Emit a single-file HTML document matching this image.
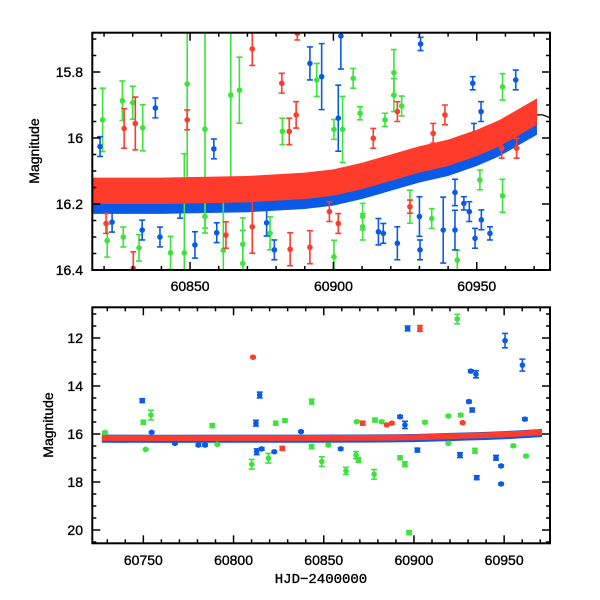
<!DOCTYPE html>
<html><head><meta charset="utf-8"><style>
html,body{margin:0;padding:0;background:#fff}
svg{display:block}
text{font-family:"Liberation Sans",sans-serif;fill:#000;stroke:#000;stroke-width:0.35}
</style></head><body>
<svg id="chart" width="600" height="600" viewBox="0 0 600 600" xmlns="http://www.w3.org/2000/svg">
<defs>
<clipPath id="clipTop"><rect x="92.3" y="32.7" width="457.7" height="237.3"/></clipPath>
<clipPath id="clipBot"><rect x="92.3" y="307.3" width="457.7" height="236"/></clipPath>
</defs>
<g id="topPanel"></g>
<g id="botPanel"></g>
<text transform="translate(39,151) rotate(-90)" text-anchor="middle" font-size="14">Magnitude</text>
<text transform="translate(53,425) rotate(-90)" text-anchor="middle" font-size="14">Magnitude</text>
<text x="321" y="583" text-anchor="middle" font-size="14" style="font-family:'Liberation Mono',monospace">HJD−2400000</text>
</svg>
<script>
// ---- data ----
const bandX   = [60727,60760,60800,60840,60870,60890,60900,60910,60920,60930,60940,60950,60958,60964,60968,60971];
const bandMid = [16.165,16.17,16.165,16.165,16.16,16.15,16.14,16.12,16.095,16.07,16.05,16.02,15.99,15.96,15.94,15.925];
const modelX  = [60816,60870,60900,60920,60940,60955,60965,60970,60973,60976];
const modelY  = [16.165,16.16,16.14,16.095,16.05,16.005,15.955,15.93,15.93,15.94];
const topYTicks = [15.8,16,16.2,16.4];
const topYLabels = ["15.8","16","16.2","16.4"];
const botYTicks = [12,14,16,18,20];
const xTicks = [60750,60800,60850,60900,60950];

// top panel points: [hjd, mag, err]
const topGreen = [[60819.5,15.945,0.096],[60826.4,15.887,0.06],[60830,15.893,0.05],[60833.5,15.969,0.07],[60849,15.836,0.3],[60855.2,15.973,0.3],[60864.2,15.87,0.25],[60867.2,15.855,0.1],[60882.2,15.98,0.04],[60894.2,15.824,0.05],[60821.1,16.311,0.05],[60832.2,16.333,0.04],[60843.2,16.348,0.05],[60848,16.348,0.3],[60861.6,16.34,0.2],[60868.4,16.322,0.08],[60877.9,16.289,0.05],[60868.4,16.38,0.1],[60826.7,16.3,0.03],[60855.2,16.238,0.05],[60906.9,15.819,0.03],[60909.3,15.925,0.02],[60959,15.845,0.04],[60921.1,15.802,0.07],[60921.1,15.87,0.05],[60918,15.945,0.02],[60923.8,15.903,0.03],[60900.2,15.974,0.03],[60903.2,15.974,0.1],[60959,16.175,0.05],[60951.1,16.127,0.03],[60910.2,16.238,0.04],[60910.2,16.269,0.04],[60934.3,16.244,0.03],[60943.2,16.37,0.03],[60900.2,16.36,0.05],[60926.7,16.208,0.05]];
const topBlue = [[60837.9,15.909,0.03],[60818.6,16.026,0.03],[60858.3,16.033,0.03],[60891.8,15.774,0.05],[60822.8,16.255,0.03],[60833.3,16.279,0.03],[60839.5,16.3,0.03],[60851.7,16.324,0.04],[60859.3,16.287,0.03],[60876.7,16.257,0.04],[60879.4,16.339,0.03],[60846.5,16.213,0.03],[60902.6,15.691,0.1],[60895.9,15.814,0.1],[60901.7,15.94,0.1],[60930.4,15.715,0.02],[60948.6,15.834,0.02],[60963.6,15.824,0.03],[60949,15.986,0.03],[60951.5,15.92,0.03],[60945.5,16.198,0.02],[60947.4,16.223,0.03],[60951.6,16.248,0.03],[60949.4,16.304,0.03],[60942.4,16.279,0.06],[60938.3,16.279,0.1],[60922.3,16.319,0.05],[60917.4,16.289,0.03],[60915.7,16.284,0.04],[60930,16.238,0.06],[60930.2,16.339,0.03],[60954.6,16.289,0.02],[60966.2,15.986,0.02],[60942.4,16.165,0.04]];
const topRed = [[60827,15.971,0.06],[60830.9,15.956,0.08],[60849,15.945,0.03],[60882,15.834,0.03],[60871.7,15.73,0.05],[60887.4,15.683,0.02],[60887,15.93,0.04],[60884.6,15.98,0.04],[60820.7,16.259,0.03],[60830.2,16.395,0.05],[60871.7,16.269,0.08],[60862.5,16.294,0.04],[60884.9,16.337,0.05],[60891.8,16.331,0.05],[60922.3,15.92,0.03],[60938.9,15.93,0.03],[60913.9,16.001,0.03],[60934.8,15.986,0.03],[60898.6,16.223,0.03],[60901.7,16.259,0.03],[60926.7,16.208,0.02],[60963.9,16.031,0.03],[60958.7,16.031,0.03]];

// bottom panel points
const botGreen = [[60750,15.51,0.08],[60754.2,15.21,0.2],[60751.3,16.64,0.03],[60788.2,15.65,0.08],[60823.4,15.55,0.08],[60828.5,15.44,0.06],[60810.1,17.26,0.2],[60819.3,17.01,0.2],[60843.3,14.65,0.1],[60728.7,15.94,0.04],[60843.3,16.53,0.08],[60791,16.43,0.04],[60924,11.21,0.2],[60897.3,20.11,0.08],[60877.9,17.68,0.2],[60862.3,17.54,0.15],[60848.9,17.15,0.2],[60867.9,16.88,0.15],[60869.2,17.08,0.1],[60892.3,16.99,0.08],[60895,17.26,0.1],[60933.8,16.7,0.1],[60919.1,15.25,0.05],[60925.9,15.21,0.05],[60878.4,15.42,0.08],[60882.1,15.49,0.05],[60868.3,15.49,0.04],[60906.1,15.51,0.05],[60955.1,16.49,0.05],[60962.1,16.92,0.04],[60852.5,16.46,0.05],[60919.1,16.39,0.04]];
const botBlue = [[60749.4,14.61,0.08],[60814.5,14.375,0.12],[60812.4,15.55,0.12],[60812.8,16.74,0.12],[60815.6,16.62,0.05],[60822.6,16.74,0.03],[60780.5,16.46,0.05],[60784.2,16.46,0.05],[60767.5,16.39,0.03],[60754.6,15.93,0.03],[60837.4,15.9,0.03],[60799,16.25,0.04],[60896.5,11.6,0.1],[60950.5,12.11,0.3],[60960.1,13.13,0.25],[60931.5,13.38,0.05],[60934.4,13.51,0.15],[60930.5,14.65,0.05],[60932.3,15.0,0.08],[60961.5,15.38,0.05],[60934.8,17.82,0.08],[60948.3,18.08,0.04],[60948.3,17.33,0.04],[60945.5,16.99,0.1],[60925.5,16.88,0.1],[60901.9,16.67,0.08],[60859.4,16.62,0.04],[60892.3,15.28,0.05],[60895,15.62,0.15]];
const botRed = [[60810.8,12.8,0.03],[60827,16.6,0.08],[60903.3,11.6,0.12],[60871.6,15.55,0.08],[60887.7,15.55,0.04],[60884.9,15.62,0.04],[60927,15.53,0.04]];

// ---- axes ----
const L=92.3, R=550;
const T1=32.7, B1=270, T2=307.3, B2=543.3;
const xT = v => L + (v-60815.9)*2.867;
const yT = m => B1 + (m-16.4)*330;
const xB = v => L + (v-60721.7)*1.804;
const yB = m => 434 + (m-16)*24;
const GREEN="#3be33b", BLUE="#0a5ae8", RED="#ff3b2b";
const NS="http://www.w3.org/2000/svg";
function mk(tag, attrs, parent){const e=document.createElementNS(NS,tag);for(const k in attrs)e.setAttribute(k,attrs[k]);parent.appendChild(e);return e;}

function drawBand(g, xf, yf, off, hw, color, clip, name){
  let up=[], lo=[];
  for(let i=0;i<bandX.length;i++){up.push(xf(bandX[i])+","+yf(bandMid[i]+off-hw));lo.unshift(xf(bandX[i])+","+yf(bandMid[i]+off+hw));}
  const p=mk("polygon",{points:up.concat(lo).join(" "),fill:color,"clip-path":clip},g);
  
  
}
function drawPts(g, pts, xf, yf, color, clip, name){
  const gg=mk("g",{"clip-path":clip},g);
  for(const p of pts){
    const x=xf(p[0]), y=yf(p[1]), y1=yf(p[1]-p[2]), y2=yf(p[1]+p[2]);
    const e=mk("g",{stroke:color,"stroke-width":1.6,fill:color},gg);
    
    
    mk("line",{x1:x,y1:y1,x2:x,y2:y2},e);
    mk("line",{x1:x-3,y1:y1,x2:x+3,y2:y1},e);
    mk("line",{x1:x-3,y1:y2,x2:x+3,y2:y2},e);
    mk("circle",{cx:x,cy:y,r:2.8,stroke:"none"},e);
  }
}
function frame(g, T, B, xf, yf, xMin, xMax, yMajor, yLabels, yMinorStep, yMin, yMax, xLabelY, name){
  const f=mk("rect",{x:L,y:T,width:R-L,height:B-T,fill:"none",stroke:"#000","stroke-width":2},g);
  
  
  const tk=mk("g",{stroke:"#000","stroke-width":1.5},g);
  for(let v=Math.ceil(xMin/10)*10; v<=xMax; v+=10){
    const x=xf(v), maj=(v%50===0), len=maj?8:4;
    mk("line",{x1:x,y1:B,x2:x,y2:B-len},tk);
    mk("line",{x1:x,y1:T,x2:x,y2:T+len},tk);
    if(maj){const t=mk("text",{x:x,y:xLabelY,"text-anchor":"middle","font-size":"14"},g);t.textContent=String(v);
      
      }
  }
  const n=Math.round((yMax-yMin)/yMinorStep);
  for(let i=0;i<=n;i++){
    const m=yMin+i*yMinorStep, y=yf(m);
    const maj=yMajor.some(v=>Math.abs(v-m)<1e-6), len=maj?8:4;
    mk("line",{x1:L,y1:y,x2:L+len,y2:y},tk);
    mk("line",{x1:R,y1:y,x2:R-len,y2:y},tk);
  }
  yMajor.forEach((v,i)=>{const t=mk("text",{x:83,y:yf(v)+5,"text-anchor":"end","font-size":"14"},g);t.textContent=yLabels[i];
    
    });
}

const gt=document.getElementById("topPanel");
drawBand(gt,xT,yT,0.015,0.05,BLUE,"url(#clipTop)","top-blue-band");
drawPts(gt,topGreen,xT,yT,GREEN,"url(#clipTop)","top-green-point");
drawPts(gt,topBlue,xT,yT,BLUE,"url(#clipTop)","top-blue-point");
drawPts(gt,topRed,xT,yT,RED,"url(#clipTop)","top-red-point");
const ml=mk("polyline",{points:modelX.map((v,i)=>xT(v)+","+yT(modelY[i])).join(" "),fill:"none",stroke:"#000","stroke-width":1.2,"clip-path":"url(#clipTop)"},gt);


drawBand(gt,xT,yT,-0.005,0.04,RED,"url(#clipTop)","top-red-band");
frame(gt,T1,B1,xT,yT,60815.9,60975.6,topYTicks,topYLabels,0.05,15.7,16.4,291,"top");

const gb=document.getElementById("botPanel");
drawBand(gb,xB,yB,0.03,0.17,BLUE,"url(#clipBot)","bottom-blue-band");
drawPts(gb,botGreen,xB,yB,GREEN,"url(#clipBot)","bottom-green-point");
drawPts(gb,botBlue,xB,yB,BLUE,"url(#clipBot)","bottom-blue-point");
drawPts(gb,botRed,xB,yB,RED,"url(#clipBot)","bottom-red-point");
drawBand(gb,xB,yB,0,0.12,RED,"url(#clipBot)","bottom-red-band");
frame(gb,T2,B2,xB,yB,60721.7,60975.5,botYTicks,botYTicks.map(String),0.5,11,20.5,565,"bottom");
</script>
</body></html>
